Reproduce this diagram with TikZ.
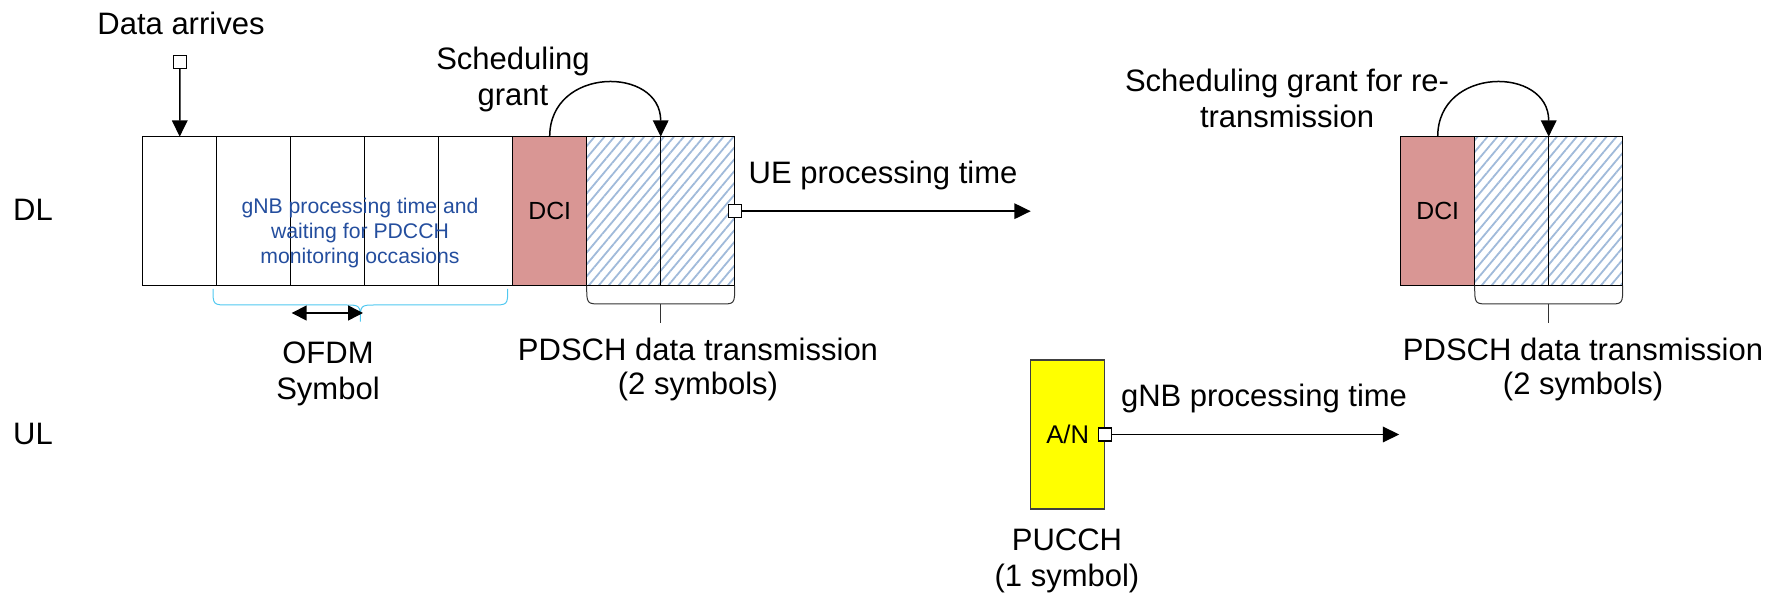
\documentclass[tikz,border=0pt]{standalone}
\usepackage{fontspec}
\setmainfont{Liberation Sans}
\usetikzlibrary{arrows.meta,patterns.meta,calc}
\definecolor{dcired}{RGB}{217,150,148}
\definecolor{hatchblue}{RGB}{160,186,218}
\definecolor{notecol}{RGB}{36,78,158}
\definecolor{bracecyan}{RGB}{80,200,240}
\definecolor{anyellow}{RGB}{255,255,0}
\begin{document}
\begin{tikzpicture}[x=0.5pt,y=-0.5pt,
  cell/.style={draw, line width=0.65pt, minimum width=37pt, minimum height=74.5pt,
    inner sep=0pt, outer sep=0pt, anchor=north west},
  dcicell/.style={cell, fill=dcired, font=\fontsize{12.4pt}{14pt}\selectfont},
  datacell/.style={cell, pattern={Lines[angle=50,distance=3.8pt,line width=0.9pt]},
    pattern color=hatchblue},
  lbl/.style={font=\fontsize{15.5pt}{18pt}\selectfont, align=center, inner sep=0pt, anchor=base},
  sq/.style={draw, fill=white, line width=0.6pt, minimum size=6.5pt, inner sep=0pt},
  arr/.style={line width=0.75pt, -{Triangle[length=8.2pt,width=7.8pt]}},
  darr/.style={line width=0.75pt, {Triangle[length=7.5pt,width=7.5pt]}-{Triangle[length=7.5pt,width=7.5pt]}},
  pbrace/.style={line width=0.5pt, draw=black!80},
  gbrace/.style={line width=0.5pt, draw=bracecyan},
]
\useasboundingbox (0,0) rectangle (1786,597);

% downlink slot: waiting symbols, DCI and PDSCH
\foreach \i in {1,...,5}
  \node[cell] (c\i) at ({142.7+74*(\i-1)},136.7) {};
\node[dcicell] (c6) at (512.7,136.7) {DCI};
\node[datacell] (c7) at (586.7,136.7) {};
\node[datacell] (c8) at (660.7,136.7) {};

% retransmission
\node[dcicell] (r1) at (1400.7,136.7) {DCI};
\node[datacell] (r2) at (1474.7,136.7) {};
\node[datacell] (r3) at (1548.7,136.7) {};

% uplink HARQ feedback
\node[cell, fill=anyellow, draw=black!75, font=\fontsize{12.8pt}{14pt}\selectfont] (pucch) at (1030.7,360) {A/N};

% row labels
\node[lbl] (dl) at (33,220.7) {DL};
\node[lbl] (ul) at (33,445) {UL};

% data arrival
\node[sq] (sqA) at (180,61.7) {};
\node[lbl] (arrive) at (181,35) {Data arrives};
\draw[arr] (sqA) -- (c1.north);

% multi-line labels are placed by the baseline of their last line
\node[font=\fontsize{10.6pt}{12.7pt}\selectfont, text=notecol, align=center, anchor=base, inner sep=0pt]
  (note) at (360,264) {gNB processing time and\\waiting for PDCCH\\monitoring occasions};

% scheduling grants
\node[lbl] (grant) at (513,106) {Scheduling\\grant};
\draw[arr] (c6.north) .. controls +(0,-70.7) and +(0,-70.7) .. (c7.north east);
\node[lbl] (regrant) at (1287,127.3) {Scheduling grant for re-\\transmission};
\draw[arr] (r1.north) .. controls +(0,-70.7) and +(0,-70.7) .. (r2.north east);

% processing times
\node[sq] (sqB) at (c8.east) {};
\coordinate (ueEnd) at (pucch.west |- sqB);
\draw[arr] (sqB) -- (ueEnd);
\node[lbl] (uetime) at (883,183.3) {UE processing time};

\node[sq] (sqC) at (pucch.east) {};
\coordinate (gnbEnd) at ($(r1.west |- sqC)+(-1.5,0)$);
\draw[arr] (sqC) -- (gnbEnd);
\node[lbl] (gnbtime) at (1264,406.7) {gNB processing time};

\node[lbl] (pucchlbl) at (1067,586.7) {PUCCH\\(1 symbol)};

% brace over the waiting symbols and one OFDM symbol
\coordinate (gL) at ($(c2.south west)+(-3.7,3.3)$);
\coordinate (gR) at ($(c6.south west)+(-5,3.3)$);
\coordinate (gM) at ($(gL)!0.5!(gR)$);
\draw[gbrace] (gL) .. controls ($(gL)+(0,16)$) .. ($(gL)+(16,16)$)
  -- ($(gM)+(-16,16)$) .. controls ($(gM)+(0,16)$) .. ($(gM)+(0,32.7)$)
  .. controls ($(gM)+(0,16)$) .. ($(gM)+(16,16)$)
  -- ($(gR)+(-16,16)$) .. controls ($(gR)+(0,16)$) .. (gR);
\coordinate (ofdmL) at ($(c3.south west)+(1,27.3)$);
\coordinate (ofdmR) at ($(c3.south east)+(-1.7,27.3)$);
\draw[darr] (ofdmL) -- (ofdmR);
\node[lbl] (ofdm) at (328,400) {OFDM\\Symbol};

% PDSCH braces
\draw[pbrace] (c7.south west) .. controls ($(c7.south west)+(0,18.3)$) .. ($(c7.south west)+(15,18.3)$)
  -- ($(c8.south east)+(-14,18.3)$) .. controls ($(c8.south east)+(0,18.3)$) .. (c8.south east);
\draw[pbrace] ($(c7.south east)+(0,18.3)$) -- ++(0,18.7);
\node[lbl, font=\fontsize{15.5pt}{17pt}\selectfont] (pdsch) at (698,395) {PDSCH data transmission\\(2 symbols)};

\draw[pbrace] (r2.south west) .. controls ($(r2.south west)+(0,18.3)$) .. ($(r2.south west)+(15,18.3)$)
  -- ($(r3.south east)+(-14,18.3)$) .. controls ($(r3.south east)+(0,18.3)$) .. (r3.south east);
\draw[pbrace] ($(r2.south east)+(0,18.3)$) -- ++(0,18.7);
\node[lbl, font=\fontsize{15.5pt}{17pt}\selectfont] (pdschre) at (1583,395) {PDSCH data transmission\\(2 symbols)};
\end{tikzpicture}
\end{document}
